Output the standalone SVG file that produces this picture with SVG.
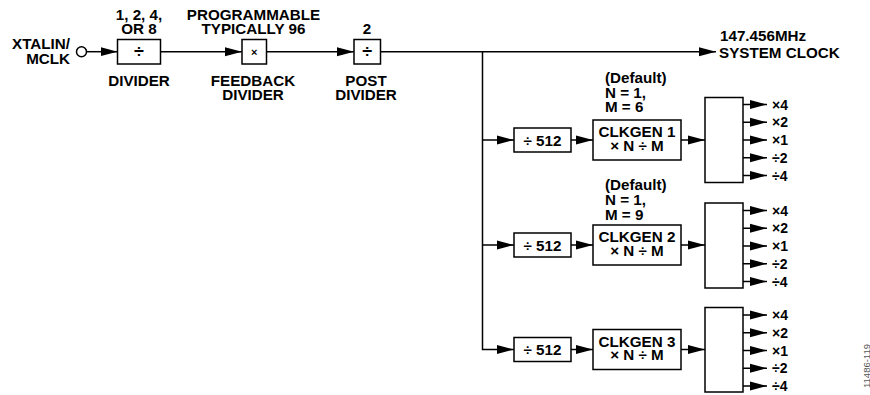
<svg xmlns="http://www.w3.org/2000/svg" width="870" height="395" viewBox="0 0 870 395">
<style>
text{font-family:"Liberation Sans",Arial,sans-serif;font-weight:bold;font-size:15.2px;fill:#000}
.c{text-anchor:middle}
.e{text-anchor:end}
.o{font-size:14px}
.box{fill:#fff;stroke:#000;stroke-width:1.5}
.ln{fill:none;stroke:#000;stroke-width:1.5}
.id{font-weight:normal;font-size:9.5px;fill:#555}
</style>
<defs>
<marker id="ah" markerUnits="userSpaceOnUse" markerWidth="17" markerHeight="10" refX="17" refY="5" orient="auto">
<path d="M0,0.5 L17,5 L0,9.5 Z" fill="#000"/>
</marker>
</defs>
<g id="connectors">
<line class="ln" x1="87" y1="51.7" x2="117.5" y2="51.7" marker-end="url(#ah)"/>
<line class="ln" x1="160.5" y1="51.7" x2="242" y2="51.7" marker-end="url(#ah)"/>
<line class="ln" x1="266.5" y1="51.7" x2="354" y2="51.7" marker-end="url(#ah)"/>
<line class="ln" x1="380.5" y1="51.7" x2="716" y2="51.7" marker-end="url(#ah)"/>
<path class="ln" d="M482.5,51.7 V349.5 H514" marker-end="url(#ah)"/>
<line class="ln" x1="482.5" y1="140" x2="514" y2="140" marker-end="url(#ah)"/>
<line class="ln" x1="482.5" y1="245" x2="514" y2="245" marker-end="url(#ah)"/>
<line class="ln" x1="571" y1="140" x2="593" y2="140" marker-end="url(#ah)"/>
<line class="ln" x1="571" y1="245" x2="593" y2="245" marker-end="url(#ah)"/>
<line class="ln" x1="571" y1="349.5" x2="593" y2="349.5" marker-end="url(#ah)"/>
<line class="ln" x1="681" y1="140" x2="705" y2="140" marker-end="url(#ah)"/>
<line class="ln" x1="681" y1="245" x2="705" y2="245" marker-end="url(#ah)"/>
<line class="ln" x1="681" y1="349.5" x2="705" y2="349.5" marker-end="url(#ah)"/>
<g id="out1">
<line class="ln" x1="743" y1="104.5" x2="767" y2="104.5" marker-end="url(#ah)"/>
<line class="ln" x1="743" y1="122.25" x2="767" y2="122.25" marker-end="url(#ah)"/>
<line class="ln" x1="743" y1="140" x2="767" y2="140" marker-end="url(#ah)"/>
<line class="ln" x1="743" y1="157.75" x2="767" y2="157.75" marker-end="url(#ah)"/>
<line class="ln" x1="743" y1="175.5" x2="767" y2="175.5" marker-end="url(#ah)"/>
</g>
<g id="out2">
<line class="ln" x1="743" y1="210.5" x2="767" y2="210.5" marker-end="url(#ah)"/>
<line class="ln" x1="743" y1="228.25" x2="767" y2="228.25" marker-end="url(#ah)"/>
<line class="ln" x1="743" y1="246" x2="767" y2="246" marker-end="url(#ah)"/>
<line class="ln" x1="743" y1="263.75" x2="767" y2="263.75" marker-end="url(#ah)"/>
<line class="ln" x1="743" y1="281.5" x2="767" y2="281.5" marker-end="url(#ah)"/>
</g>
<g id="out3">
<line class="ln" x1="743" y1="315" x2="767" y2="315" marker-end="url(#ah)"/>
<line class="ln" x1="743" y1="332.75" x2="767" y2="332.75" marker-end="url(#ah)"/>
<line class="ln" x1="743" y1="350.5" x2="767" y2="350.5" marker-end="url(#ah)"/>
<line class="ln" x1="743" y1="368.25" x2="767" y2="368.25" marker-end="url(#ah)"/>
<line class="ln" x1="743" y1="386" x2="767" y2="386" marker-end="url(#ah)"/>
</g>
</g>
<g id="input">
<circle class="box" cx="81.5" cy="51.7" r="5"/>
<text class="e" x="70" y="49">XTALIN/</text>
<text class="e" x="70" y="63.5">MCLK</text>
</g>
<g id="divider">
<rect class="box" x="117.5" y="39.5" width="43" height="24.5"/>
<text class="c" x="139" y="58" style="font-size:18px">÷</text>
<text class="c" x="139" y="20">1, 2, 4,</text>
<text class="c" x="139" y="33.5">OR 8</text>
<text class="c" x="139" y="86">DIVIDER</text>
</g>
<g id="feedback">
<rect class="box" x="242" y="39.5" width="24.5" height="24.5"/>
<text class="c" x="254.2" y="56" style="font-size:11px">×</text>
<text class="c" x="253.5" y="20">PROGRAMMABLE</text>
<text class="c" x="253.5" y="33.5">TYPICALLY 96</text>
<text class="c" x="253" y="86">FEEDBACK</text>
<text class="c" x="253" y="100">DIVIDER</text>
</g>
<g id="post">
<rect class="box" x="354" y="39.5" width="26.5" height="24.5"/>
<text class="c" x="367.2" y="58" style="font-size:18px">÷</text>
<text class="c" x="367" y="34">2</text>
<text class="c" x="366" y="86">POST</text>
<text class="c" x="366" y="100">DIVIDER</text>
</g>
<g id="sysclk">
<text x="720" y="41">147.456MHz</text>
<text x="719" y="58">SYSTEM CLOCK</text>
</g>
<g id="div512-1">
<rect class="box" x="514" y="128" width="57" height="24"/>
<text class="c" x="542.5" y="145.5">÷ 512</text>
</g>
<g id="div512-2">
<rect class="box" x="514" y="233" width="57" height="24"/>
<text class="c" x="542.5" y="250.5">÷ 512</text>
</g>
<g id="div512-3">
<rect class="box" x="514" y="337.5" width="57" height="24"/>
<text class="c" x="542.5" y="355">÷ 512</text>
</g>
<g id="clkgen1">
<rect class="box" x="593" y="120" width="88" height="40"/>
<text class="c" x="637" y="137">CLKGEN 1</text>
<text class="c" x="637" y="150.5">× N ÷ M</text>
<text x="605" y="83">(Default)</text>
<text x="605" y="97.5">N = 1,</text>
<text x="605" y="112">M = 6</text>
</g>
<g id="clkgen2">
<rect class="box" x="593" y="225" width="88" height="40"/>
<text class="c" x="637" y="242">CLKGEN 2</text>
<text class="c" x="637" y="255.5">× N ÷ M</text>
<text x="605" y="190">(Default)</text>
<text x="605" y="205">N = 1,</text>
<text x="605" y="219.5">M = 9</text>
</g>
<g id="clkgen3">
<rect class="box" x="593" y="329.5" width="88" height="40"/>
<text class="c" x="637" y="346.5">CLKGEN 3</text>
<text class="c" x="637" y="360">× N ÷ M</text>
</g>
<g id="outbox1">
<rect class="box" x="705" y="97.5" width="38" height="85"/>
<text class="o" x="772" y="109.5">×4</text>
<text class="o" x="772" y="127.25">×2</text>
<text class="o" x="772" y="145">×1</text>
<text class="o" x="772" y="162.75">÷2</text>
<text class="o" x="772" y="180.5">÷4</text>
</g>
<g id="outbox2">
<rect class="box" x="705" y="203" width="38" height="85"/>
<text class="o" x="772" y="215.5">×4</text>
<text class="o" x="772" y="233.25">×2</text>
<text class="o" x="772" y="251">×1</text>
<text class="o" x="772" y="268.75">÷2</text>
<text class="o" x="772" y="286.5">÷4</text>
</g>
<g id="outbox3">
<rect class="box" x="705" y="307.5" width="38" height="84.5"/>
<text class="o" x="772" y="320">×4</text>
<text class="o" x="772" y="337.75">×2</text>
<text class="o" x="772" y="355.5">×1</text>
<text class="o" x="772" y="373.25">÷2</text>
<text class="o" x="772" y="391">÷4</text>
</g>
<text class="id c" transform="translate(869.5,366) rotate(-90)">11486-119</text>
</svg>
